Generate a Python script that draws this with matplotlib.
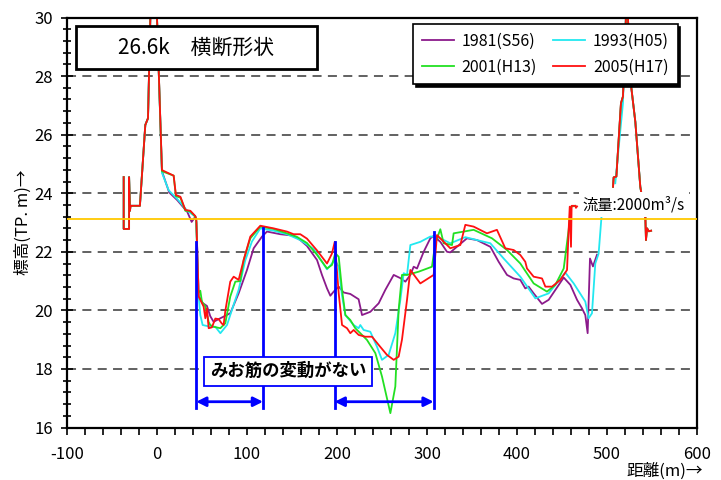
#!/usr/bin/env python3
"""Cross-section profile at 26.6k, four survey years."""

import matplotlib
matplotlib.use("Agg")
import matplotlib.pyplot as plt
import numpy as np
from matplotlib.patches import Rectangle
from matplotlib.ticker import MultipleLocator

plt.rcParams["font.family"] = ["Noto Sans CJK JP", "DejaVu Sans"]

# shared left bank (all surveys overlap here)
BANK_L_X = [-37, -37, -31, -31, -30, -29.5, -29, -19, -13, -10, -7.4, -4.3, 0]
BANK_L_Y = [24.55, 22.78, 22.78, 24.55, 23.4, 23.57, 23.57, 23.57, 26.33, 26.56, 30.0, 34.0, 30.0]

# shared right bank
BANK_R_X = [506.7, 507.4, 510.4, 515.5, 517.7, 519.5, 522, 526, 531.5, 537, 542.6, 543.3, 544.5, 546.5, 549]
BANK_R_Y = [24.22, 24.54, 24.57, 27.07, 27.3, 28.5, 31.0, 27.87, 26.43, 24.22, 23.2, 22.4, 22.8, 22.7, 22.72]

X_1981 = [5.5, 13.5, 22.6, 33.7, 38.5, 42.6, 43.7, 46.3, 50.7, 55.5, 59.2, 62.9, 70.4, 81.4, 90.7,
          100, 107.4, 116.7, 122.2, 137, 151.8, 159.2, 166.6, 177.8, 183.3, 188.9, 192.6, 196.3,
          201.9, 207.4, 214.8, 224, 227.8, 237, 246.3, 253.7, 263, 270.4, 276, 281.5, 285.2, 288.9,
          296.3, 303.7, 307.4, 314.8, 322.2, 325.9, 344.4, 355.5, 370.4, 379.6, 388.9, 396.3, 403.7,
          409.2, 412.9, 418.5, 427.8, 435.2, 451.9, 459.3, 466.7, 472.2, 475.9, 478.5, 481.1, 484.4, 488.9]
Y_1981 = [24.75, 24.03, 23.76, 23.36, 23.02, 23.2, 23.0, 20.5, 20.25, 20.15, 19.8, 19.61, 19.73, 19.9, 20.58,
          21.38, 22.12, 22.52, 22.69, 22.6, 22.55, 22.4, 22.2, 21.72, 21.21, 20.75, 20.5, 20.64,
          20.81, 20.61, 20.56, 20.38, 19.84, 19.95, 20.24, 20.7, 21.21, 21.1, 20.98, 21.21, 21.49, 21.43,
          22.0, 22.46, 22.54, 22.34, 22.0, 21.98, 22.46, 22.4, 22.17, 21.66, 21.21, 21.09, 21.04,
          20.75, 20.81, 20.58, 20.22, 20.36, 21.12, 20.87, 20.36, 20.07, 19.84, 19.22, 21.77, 21.5, 21.9]

X_1993 = [5.5, 13, 22.6, 33.7, 42.6, 43.7, 46.3, 48.1, 50.7, 59.2, 64.8, 70.4, 77.8, 83.3, 90.7, 98,
          105.5, 114.8, 129.6, 144.4, 159.2, 174, 188.9, 194.4, 198, 201.9, 205.6, 209.3, 218.5, 224,
          225.9, 229.6, 237, 244.4, 250, 257.4, 264.8, 270.4, 274.1, 277.8, 281.5, 292.6, 303.7, 307.4,
          314.8, 325.9, 342.6, 355.5, 370.4, 385.2, 403.7, 420.4, 435.2, 453.7, 463, 475.9, 479.6, 483.3,
          487, 490.7, 494.4]
Y_1993 = [24.7, 24.1, 23.8, 23.4, 23.2, 23.05, 20.5, 19.84, 19.5, 19.44, 19.44, 19.22, 19.5, 20.02, 20.7, 21.7,
          22.35, 22.8, 22.72, 22.6, 22.4, 22.1, 21.4, 21.6, 21.7, 21.49, 20.5, 19.84, 19.5, 19.39,
          19.5, 19.33, 19.27, 18.76, 18.31, 18.48, 19.22, 20.36, 21.27, 21.21, 22.23, 22.34, 22.52, 22.52,
          22.46, 22.29, 22.5, 22.4, 22.29, 21.77, 21.15, 20.41, 20.58, 21.29, 20.92, 20.3, 19.73, 19.9,
          21.6, 21.94, 23.4]
BANK_R_X_1993 = [509.2, 517.7, 522, 526, 531.5, 537, 542.6]
BANK_R_Y_1993 = [24.34, 27.07, 31.0, 27.87, 26.43, 24.22, 23.2]

X_2001 = [5.5, 18.5, 21, 26, 31.5, 37, 42.6, 43.7, 45.5, 48.1, 49.9, 53.7, 57.4, 59.2, 62.9, 70.4, 75.9,
          81.4, 87, 92.6, 96.3, 103.7, 114.8, 129.6, 144.4, 155.5, 166.6, 177.7, 188.9, 194.4, 198.1,
          201.9, 205.6, 209.3, 214.8, 220.3, 225.9, 233.3, 242.6, 250, 259.3, 264.8, 268.5, 272.2, 277.8,
          290.7, 305.5, 309.2, 314.8, 318.5, 327.8, 329.6, 351.8, 372.2, 388.9, 403.7, 418.5, 433.3,
          442.6, 451.9, 457.4, 460, 464.8]
Y_2001 = [24.75, 24.6, 23.9, 23.85, 23.4, 23.38, 23.2, 23.05, 20.6, 20.67, 20.3, 20.13, 19.6, 19.5, 19.44, 19.39, 19.56,
          20.47, 20.98, 21.0, 21.72, 22.46, 22.86, 22.78, 22.63, 22.51, 22.3, 21.9, 21.43, 21.55, 21.95,
          21.83, 20.7, 19.84, 19.67, 19.39, 19.22, 18.99, 18.54, 17.74, 16.49, 17.4, 20.02, 21.21, 21.21,
          21.32, 21.49, 22.29, 22.77, 22.29, 22.23, 22.63, 22.75, 22.46, 22.06, 21.6, 20.92, 20.64,
          20.87, 21.43, 22.75, 23.54, 23.57]

X_2005 = [5.5, 18.5, 21, 26, 31.5, 37, 42.6, 43.7, 46.3, 48.1, 51.8, 53.7, 55.5, 57.4, 61, 64.8, 68.5, 72,
          74, 76, 81.4, 85.2, 90.7, 96.3, 103.7, 114.8, 129.6, 144.4, 151.8, 159.2, 166.6, 177.7, 188.9,
          194.4, 197.5, 201.9, 205.6, 211.1, 214.8, 218.5, 224.1, 231.5, 238.9, 246.3, 255.5, 263, 268.5,
          272.2, 277.8, 281.5, 287, 292.6, 307.4, 311.1, 316.7, 325.9, 337, 342.6, 351.8, 366.6, 377.7,
          387, 396.3, 403.7, 409.2, 411.1, 418.5, 427.8, 431.5, 438.9, 448.1, 455.6, 457.4, 458.6, 460,
          460.7, 464.8, 465.5, 466.7]
Y_2005 = [24.79, 24.6, 23.94, 23.88, 23.43, 23.4, 23.22, 23.09, 20.47, 20.36, 20.13, 19.73, 20.07, 19.39, 19.42,
          19.72, 19.7, 19.55, 19.5, 20.0, 20.98, 21.15, 21.04, 21.72, 22.52, 22.89, 22.8, 22.69, 22.6,
          22.6, 22.45, 22.05, 21.6, 21.94, 22.34, 20.58, 19.5, 19.39, 19.22, 19.33, 19.16, 19.1, 19.1,
          18.82, 18.48, 18.31, 18.42, 19.0, 20.36, 21.38, 21.15, 20.92, 21.21, 22.57, 22.4, 22.12, 22.23,
          22.92, 22.86, 22.63, 22.75, 22.12, 22.06, 21.89, 21.66, 21.43, 21.15, 21.09, 20.81, 20.81,
          21.04, 21.38, 22.75, 23.54, 22.17, 23.57, 23.57, 23.5, 23.55]

LABELS = ["1981(S56)", "1993(H05)", "2001(H13)", "2005(H17)"]
COLORS = ["#8B1A8B", "#22E8F0", "#22E022", "#FF1010"]

FLOW_LEVEL = 23.12
# main-channel spans where the thalweg did not move
SPAN_A = (43.6, 117.8)
SPAN_B = (197.4, 307.4)
SPAN_TOPS = [22.35, 22.82, 22.33, 22.67]


def join(*parts):
    xs, ys = [], []
    for i, (px, py) in enumerate(parts):
        if i:
            xs.append(np.nan)
            ys.append(np.nan)
        xs.extend(px)
        ys.extend(py)
    return np.array(xs), np.array(ys)


def main():
    fig = plt.figure(figsize=(7.21, 4.80), dpi=100)
    ax = fig.add_axes([67 / 721, 1 - 427.5 / 480, 630 / 721, 410 / 480])

    series = [
        join((BANK_L_X + X_1981, BANK_L_Y + Y_1981), (BANK_R_X, BANK_R_Y)),
        join((BANK_L_X + X_1993, BANK_L_Y + Y_1993), (BANK_R_X_1993, BANK_R_Y_1993)),
        join((BANK_L_X + X_2001, BANK_L_Y + Y_2001), (BANK_R_X, BANK_R_Y)),
        join((BANK_L_X + X_2005, BANK_L_Y + Y_2005), (BANK_R_X, BANK_R_Y)),
    ]
    handles = []
    for (x, y), label, color in zip(series, LABELS, COLORS):
        (h,) = ax.plot(x, y, color=color, lw=1.3, label=label, zorder=2)
        handles.append(h)

    ax.axhline(FLOW_LEVEL, color="#FFC800", lw=1.3, zorder=5)
    ax.text(473, 23.61, "流量:2000m³/s", fontsize=11, ha="left", va="center", zorder=4,
            bbox=dict(facecolor="white", edgecolor="none", pad=3))

    # blue markers for unchanged thalweg
    bottom = 16.68
    for xv, top in zip([SPAN_A[0], SPAN_A[1], SPAN_B[0], SPAN_B[1]], SPAN_TOPS):
        ax.plot([xv, xv], [bottom, top], color="#0000FF", lw=2.0, zorder=6)
    for lo, hi in (SPAN_A, SPAN_B):
        ax.annotate("", xy=(hi, 16.88), xytext=(lo, 16.88),
                    arrowprops=dict(arrowstyle="<|-|>", color="#0000FF", lw=2.0,
                                    mutation_scale=14, shrinkA=0, shrinkB=0), zorder=6)
    ax.text(0.3508, 0.1371, "みお筋の変動がない", transform=ax.transAxes, fontsize=12.5,
            fontweight="bold", ha="center", va="center", zorder=7,
            bbox=dict(facecolor="white", edgecolor="#0000FF", lw=1.3, pad=4))

    # title box
    ax.add_patch(Rectangle((0.0143, 0.8737), 0.382, 0.1056, transform=ax.transAxes,
                           facecolor="white", edgecolor="black", lw=2.0, zorder=7))
    ax.text(0.0143 + 0.191, 0.8737 + 0.0528, "26.6k　横断形状", transform=ax.transAxes,
            fontsize=15, ha="center", va="center", zorder=8)

    ax.set_xlim(-100, 600)
    ax.set_ylim(16, 30)
    ax.xaxis.set_major_locator(MultipleLocator(100))
    ax.xaxis.set_minor_locator(MultipleLocator(20))
    ax.yaxis.set_major_locator(MultipleLocator(2))
    ax.yaxis.set_minor_locator(MultipleLocator(0.4))
    ax.tick_params(axis="x", which="both", direction="out", length=5, width=1.2, labelsize=12, pad=8)
    ax.tick_params(axis="y", which="major", direction="inout", length=8, width=1.2, labelsize=12, pad=6)
    ax.tick_params(axis="y", which="minor", direction="inout", length=6, width=1.2)
    ax.set_xticklabels([f"{int(v)}" for v in ax.get_xticks()])
    for spine in ax.spines.values():
        spine.set_linewidth(1.6)
        spine.set_color("black")
    for yv in (18, 20, 22, 24, 26, 28):
        ax.axhline(yv, color="#555555", lw=1.3, ls=(0, (5, 3.5)), zorder=1)

    ax.set_ylabel("標高(TP. m)→", fontsize=12, labelpad=2)
    fig.text(703 / 721, 1 - 471.7 / 480, "距離(m)→", fontsize=12, ha="right", va="center")

    order = [0, 2, 1, 3]
    leg = ax.legend([handles[i] for i in order], [LABELS[i] for i in order],
                    ncol=2, loc="upper left", bbox_to_anchor=(0.549, 0.984), borderaxespad=0,
                    fontsize=11.5, frameon=True, fancybox=False, edgecolor="black", framealpha=1,
                    shadow={"color": "black", "alpha": 1}, handlelength=2.0,
                    columnspacing=1.0, handletextpad=0.5, borderpad=0.55, labelspacing=0.55)
    leg.get_frame().set_linewidth(1.2)
    leg.set_zorder(10)

    fig.savefig("out.png", dpi=100)


if __name__ == "__main__":
    main()
